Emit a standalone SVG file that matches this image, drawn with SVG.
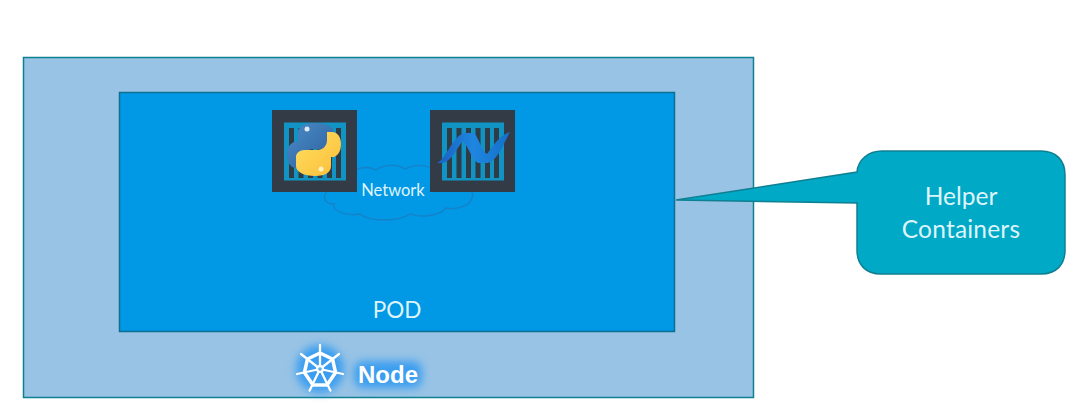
<svg xmlns="http://www.w3.org/2000/svg" width="1074" height="418" viewBox="0 0 1074 418">
<defs>
<style>
.t{font-family:"Lato","Open Sans","Liberation Sans",sans-serif;fill:#dff4fa;text-anchor:middle}
.bar{fill:#2f3b45}
</style>
<linearGradient id="pyb" x1="0" y1="0" x2="1" y2="1"><stop offset="0" stop-color="#4a8cc8"/><stop offset="1" stop-color="#2d5f9c"/></linearGradient>
<linearGradient id="pyy" x1="0" y1="0" x2="1" y2="1"><stop offset="0" stop-color="#ffe060"/><stop offset="1" stop-color="#fbbd3a"/></linearGradient>
<linearGradient id="net" x1="0" y1="0" x2="1" y2="0"><stop offset="0" stop-color="#1a5fc0"/><stop offset=".5" stop-color="#1e86e0"/><stop offset="1" stop-color="#1470c8"/></linearGradient>
<filter id="glow" x="-50%" y="-50%" width="200%" height="200%"><feGaussianBlur stdDeviation="4"/></filter>
<g id="box">
<rect x="0" y="0" width="85" height="82" fill="#333c46"/>
<rect x="12" y="12.500" width="62" height="58" fill="#1193c4"/>
<g class="bar"><rect x="17" y="18" width="5" height="50"/><rect x="26.500" y="18" width="5" height="50"/><rect x="36" y="18" width="5" height="50"/><rect x="45.500" y="18" width="5" height="50"/><rect x="55" y="18" width="5" height="50"/><rect x="64" y="18" width="5" height="50"/></g>
</g>
</defs>
<rect width="1074" height="418" fill="#fff"/>
<g id="node">
<rect x="23.500" y="57.500" width="730" height="340" fill="#98c3e5" stroke="#0f7f92" stroke-width="1.500"/>
</g>
<g id="pod">
<rect x="119.500" y="92.500" width="555" height="239" fill="#0198e6" stroke="#0f6f90" stroke-width="1.500"/>
<text class="t" x="397" y="318" font-size="22.500">POD</text>
</g>
<g id="connectors">
<path d="M345 178C350 168 368 165 376 170C384 164 398 164 405 169C414 164 430 164 436 172C446 170 452 178 450 186C462 184 476 190 472 198C470 206 456 210 446 208C440 216 420 218 410 214C398 222 370 222 360 214C348 216 332 212 334 204C322 204 322 192 330 190C334 184 340 182 345 178Z" fill="#0198e6" stroke="#1780c6" stroke-width="1.300"/>
</g>
<g id="network">
<text class="t" x="393" y="196" font-size="16.500">Network</text>
</g>
<g id="python">
<use href="#box" x="272" y="110"/>
<path d="M315 123c-11 0-17 4-17 10v9h-4c-5 2-7 7-7 13 0 7 3 12 8 13h8v-8c0-6 4-11 10-11h13c4 0 8-3 8-7v-9c0-6-8-10-19-10z" fill="url(#pyb)"/>
<path d="M315 176c11 0 16-4 16-10v-9h3c5-2 7-7 7-13 0-7-3-11-8-12h-6v8c0 6-4 10-10 10h-13c-4 0-8 3-8 7v9c0 6 8 10 19 10z" fill="url(#pyy)"/>
<circle cx="307" cy="129" r="2.500" fill="#dfeaf5"/>
<circle cx="321" cy="169" r="2.500" fill="#fff3c0"/>
</g>
<g id="dotnet">
<use href="#box" x="430" y="110"/>
<path d="M437 163C447 158 452 137 464 133L474 133C480 140 482 152 487 154C492 148 498 136 510 132C504 142 500 158 488 163L478 163C472 160 468 146 463 141C456 148 452 165 437 163Z" fill="url(#net)"/>
</g>
<g id="callout">
<path d="M676 200L857 172C858 160 868 151 882 151H1041C1056 151 1065 160 1065 175V250C1065 265 1056 274 1041 274H881C866 274 857 265 857 250V203Z" fill="#00a9c6" stroke="#0f7f92" stroke-width="1.500"/>
<text class="t" x="961" y="205" font-size="24.500">Helper</text>
<text class="t" x="961" y="238" font-size="24.500" letter-spacing=".2">Containers</text>
</g>
<g id="node-label">
<circle cx="320" cy="369" r="24" fill="#3a9ef0" filter="url(#glow)"/>
<rect x="354" y="361" width="68" height="27" rx="9" fill="#3a9ef0" filter="url(#glow)"/>
<g fill="none" stroke="#fff" stroke-linecap="round" stroke-linejoin="round">
<polygon points="320,353 332.500,359 335.600,372.600 327,385 313,385 304.400,372.600 307.500,359" stroke-width="3.500"/>
<path d="M320 369V345M320 369L339 354M320 369L343 374M320 369L330.400 390.600M320 369L309.600 390.600M320 369L297 374M320 369L301 354" stroke-width="2.300"/>
</g>
<circle cx="320" cy="369" r="4" fill="#fff"/>
<circle cx="320" cy="369" r="1.800" fill="#5aaef0"/>
<text x="388" y="383" font-family="'Liberation Sans',sans-serif" font-weight="700" font-size="24" fill="#fff" text-anchor="middle">Node</text>
</g>
</svg>
